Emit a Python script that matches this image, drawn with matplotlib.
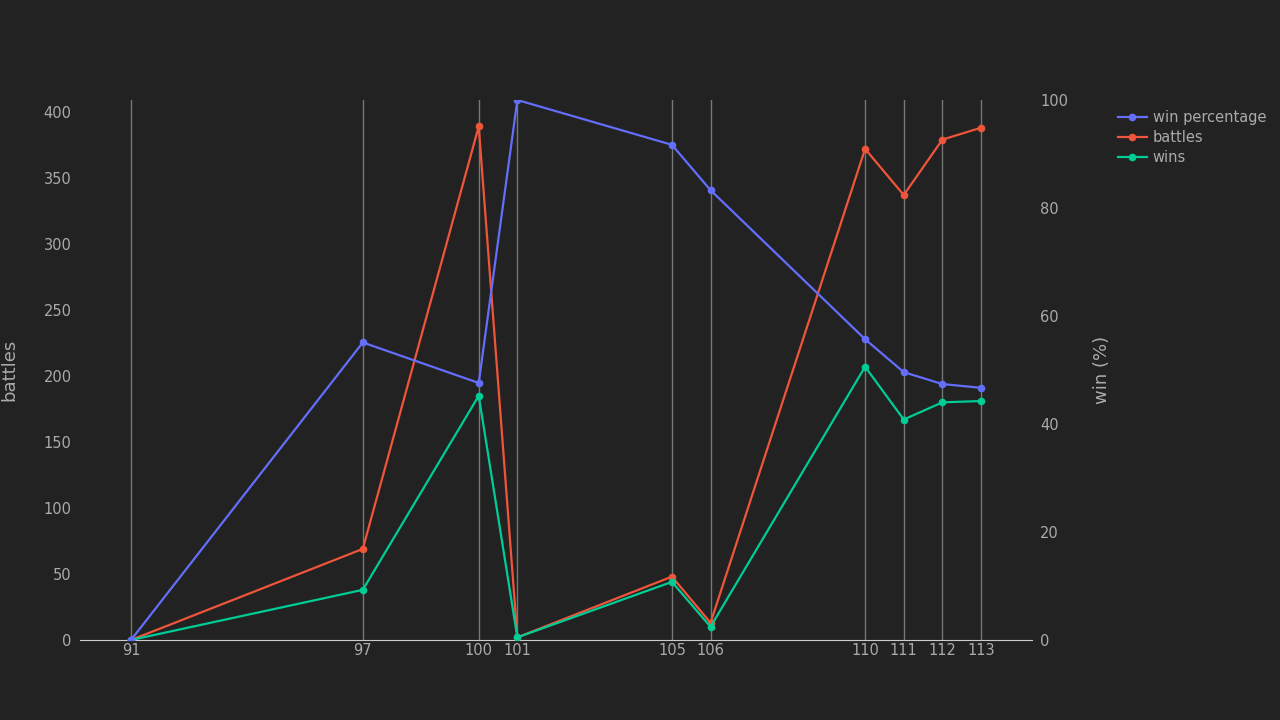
import matplotlib
matplotlib.use("Agg")
import matplotlib.pyplot as plt
from matplotlib.lines import Line2D

levels = [91, 97, 100, 101, 105, 106, 110, 111, 112, 113]
battles = [0, 69, 389, 2, 48, 13, 372, 337, 379, 388]
wins = [0, 38, 185, 2, 44, 10, 207, 167, 180, 181]
win_pct = [0, 55.1, 47.6, 100, 91.7, 83.3, 55.7, 49.6, 47.4, 46.7]

bg = "#222222"
tc = "#aaaaaa"
c_pct, c_bat, c_win = "#636efa", "#ef553b", "#00cc96"

fig = plt.figure(figsize=(12.8, 7.2), dpi=100, facecolor=bg)
ax = fig.add_axes([80/1280, 80/720, 952/1280, 540/720], facecolor=bg)
ax2 = ax.twinx()

for x in levels:
    ax.axvline(x, color="#777777", lw=1, zorder=0)

ax.plot(levels, battles, color=c_bat, marker="o", ms=4.5, lw=1.6, zorder=3)
ax.plot(levels, wins, color=c_win, marker="o", ms=4.5, lw=1.6, zorder=3)
ax2.plot(levels, win_pct, color=c_pct, marker="o", ms=4.5, lw=1.6, zorder=3)

ax.set_xlim(89.68, 114.32)
ax.set_ylim(0, 409)
ax2.set_ylim(0, 100)
ax.set_xticks(levels)
ax.set_yticks(range(0, 401, 50))
ax2.set_yticks(range(0, 101, 20))

for a in (ax, ax2):
    for s in a.spines.values():
        s.set_visible(False)
    a.tick_params(colors=tc, labelsize=10.5, length=0, pad=6)
ax.spines["bottom"].set_visible(True)
ax.spines["bottom"].set_color("#cccccc")
ax.set_ylabel("battles", color=tc, fontsize=13, labelpad=18)
ax2.set_ylabel("win (%)", color=tc, fontsize=13, labelpad=18)
ax.tick_params(axis="x", pad=2)

handles = [Line2D([], [], color=c, marker="o", ms=4.5, lw=1.6) for c in (c_pct, c_bat, c_win)]
leg = fig.legend(handles, ["win percentage", "battles", "wins"], loc="upper left",
                 bbox_to_anchor=(1112/1280, 1 - 104/720), frameon=False,
                 fontsize=10.5, labelcolor=tc, handlelength=2, handletextpad=0.4,
                 labelspacing=0.35, borderaxespad=0)
fig.savefig("out.png", dpi=100, facecolor=bg)
